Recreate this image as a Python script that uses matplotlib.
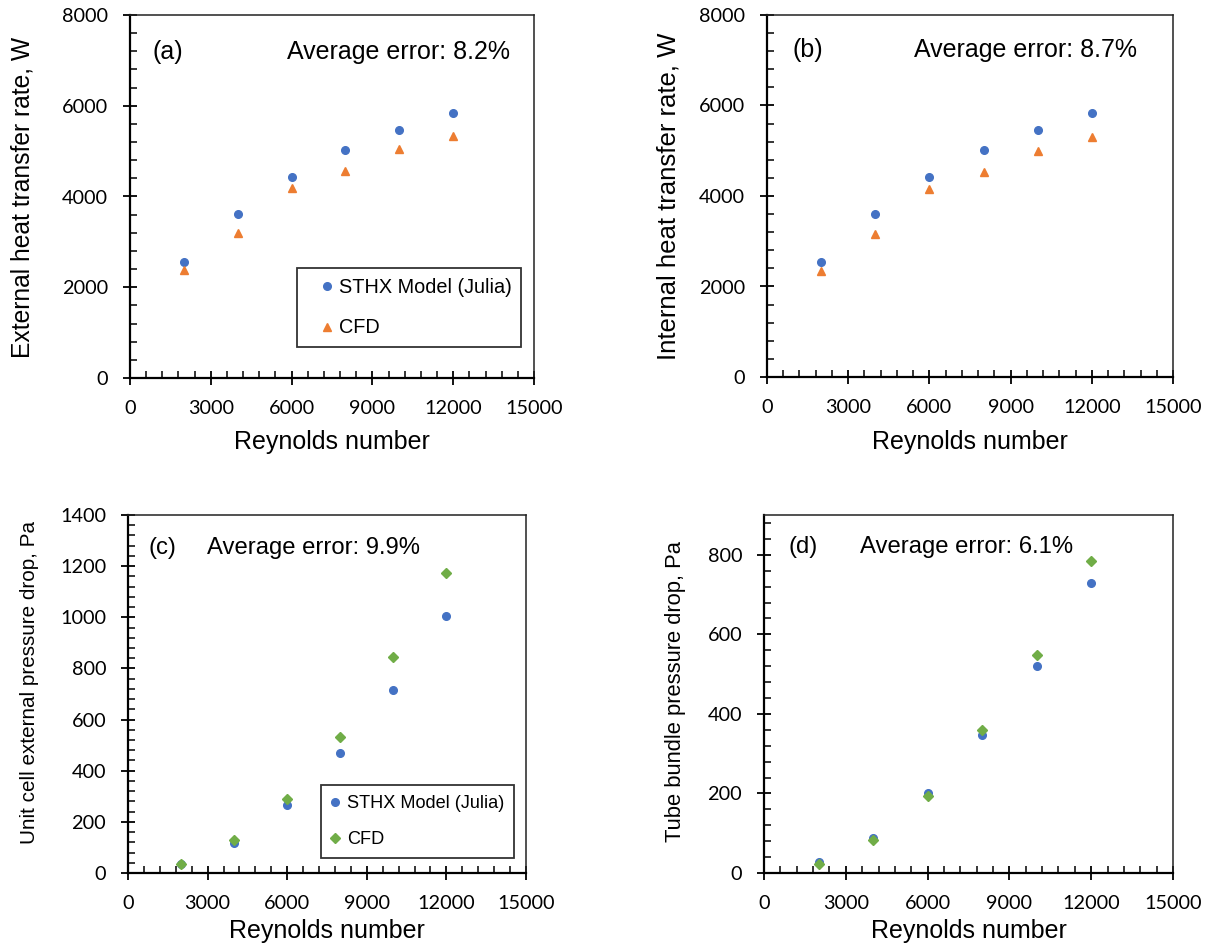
import matplotlib
matplotlib.use("Agg")
import matplotlib.pyplot as plt
from matplotlib.ticker import MultipleLocator

reynolds = [2000, 4000, 6000, 8000, 10000, 12000]

ext_q_model = [2560, 3625, 4436, 5022, 5462, 5843]
ext_q_cfd = [2380, 3189, 4179, 4567, 5037, 5337]

int_q_model = [2551, 3596, 4426, 5007, 5463, 5838]
int_q_cfd = [2353, 3154, 4147, 4537, 5000, 5301]

unit_dp_model = [36, 117, 264, 469, 715, 1005]
unit_dp_cfd = [36, 130, 290, 533, 844, 1174]

bundle_dp_model = [28, 88, 200, 346, 521, 728]
bundle_dp_cfd = [23, 82, 194, 359, 549, 785]

labels_model = "STHX Model (Julia)"
labels_cfd = "CFD"
x_label = "Reynolds number"
y_labels = ["External heat transfer rate, W", "Internal heat transfer rate, W",
            "Unit cell external pressure drop, Pa", "Tube bundle pressure drop, Pa"]
panel_tags = ["(a)", "(b)", "(c)", "(d)"]
error_texts = ["Average error: 8.2%", "Average error: 8.7%",
               "Average error: 9.9%", "Average error: 6.1%"]

BLUE = "#4472C4"
ORANGE = "#ED7D31"
GREEN = "#70AD47"
TXT_FONT = "Liberation Sans"
TICK_FONT = "Lato"

W, H = 1208, 947
fig = plt.figure(figsize=(W / 100, H / 100), dpi=100)

boxes = [(130, 534, 15, 378), (767, 1173, 15, 377),
         (128, 526, 515, 873), (764, 1173, 515, 873)]


def px_axes(box):
    l, r, t, b = box
    return fig.add_axes([l / W, 1 - b / H, (r - l) / W, (b - t) / H])


def style(ax, box, ymax, ymajor, yminor, ylabel, ylab_size, ylab_xy, xlab_y):
    l, r, t, b = box
    ax.set_xlim(0, 15000)
    ax.set_ylim(0, ymax)
    ax.xaxis.set_major_locator(MultipleLocator(3000))
    ax.xaxis.set_minor_locator(MultipleLocator(600))
    ax.yaxis.set_major_locator(MultipleLocator(ymajor))
    ax.yaxis.set_minor_locator(MultipleLocator(yminor))
    ax.tick_params(which="major", direction="inout", length=9.5, width=1.3,
                   labelsize=14.3, pad=11, color="black")
    ax.tick_params(which="minor", direction="in", length=5, width=1.1)
    ax.tick_params(top=False, right=False, which="both")
    for lab in ax.get_xticklabels() + ax.get_yticklabels():
        lab.set_fontfamily(TICK_FONT)
    for sp in ax.spines.values():
        sp.set_linewidth(1.1)
        sp.set_color("#222222")
    ax.spines["left"].set_linewidth(1.6)
    ax.spines["bottom"].set_linewidth(1.6)
    ax.spines["left"].set_color("black")
    ax.spines["bottom"].set_color("black")
    ax.set_xlabel(x_label, fontsize=18, fontfamily=TXT_FONT)
    ax.xaxis.label.set_verticalalignment("center")
    ax.xaxis.set_label_coords(0.5, (b - xlab_y) / (b - t))
    ax.set_ylabel(ylabel, fontsize=ylab_size, fontfamily=TXT_FONT)
    ax.yaxis.label.set_verticalalignment("center")
    ax.yaxis.set_label_coords((ylab_xy[0] - l) / (r - l), (b - ylab_xy[1]) / (b - t))


axes = [px_axes(bx) for bx in boxes]

ms = 5.5
# (a)
ax = axes[0]
ax.plot(reynolds, ext_q_model, "o", color=BLUE, ms=ms, label=labels_model)
ax.plot(reynolds, ext_q_cfd, "^", color=ORANGE, ms=ms + 0.3, label=labels_cfd)
style(ax, boxes[0], 8000, 2000, 400, y_labels[0], 17.7, (23, 197), 442)
leg = ax.legend(loc="lower right", bbox_to_anchor=(0.968, 0.0854), frameon=True,
                fancybox=False, edgecolor="black",
                prop={"family": TXT_FONT, "size": 14.3}, handletextpad=-0.4,
                labelspacing=1.1, borderpad=0.48, handlelength=2.0,
                borderaxespad=0)
leg.get_frame().set_linewidth(1.3)

# (b)
ax = axes[1]
ax.plot(reynolds, int_q_model, "o", color=BLUE, ms=ms)
ax.plot(reynolds, int_q_cfd, "^", color=ORANGE, ms=ms + 0.3)
style(ax, boxes[1], 8000, 2000, 400, y_labels[1], 18.5, (668, 196), 442)

# (c)
ax = axes[2]
ax.plot(reynolds, unit_dp_model, "o", color=BLUE, ms=ms, label=labels_model)
ax.plot(reynolds, unit_dp_cfd, "D", color=GREEN, ms=ms, label=labels_cfd)
style(ax, boxes[2], 1400, 200, 40, y_labels[2], 14.9, (30, 682), 931)
leg = ax.legend(loc="lower right", bbox_to_anchor=(0.970, 0.0419), frameon=True,
                fancybox=False, edgecolor="black",
                prop={"family": TXT_FONT, "size": 13.1}, handletextpad=0.44,
                labelspacing=1.05, borderpad=0.55, handlelength=0.44,
                borderaxespad=0)
leg.get_frame().set_linewidth(1.3)

# (d)
ax = axes[3]
ax.plot(reynolds, bundle_dp_model, "o", color=BLUE, ms=ms)
ax.plot(reynolds, bundle_dp_cfd, "D", color=GREEN, ms=ms)
style(ax, boxes[3], 900, 200, 40, y_labels[3], 15.8, (675, 692), 931)

# annotations (figure pixel coordinates)
tag_pos = [(153, 52), (792, 50), (149, 548), (788, 547)]
err_pos = [(287, 52), (914, 50), (207, 548), (860, 547)]
sizes = [18, 18, 17.2, 17.2]
for i in range(4):
    fig.text(tag_pos[i][0] / W, 1 - tag_pos[i][1] / H, panel_tags[i],
             fontsize=sizes[i], fontfamily=TXT_FONT, va="center", ha="left")
    fig.text(err_pos[i][0] / W, 1 - err_pos[i][1] / H, error_texts[i],
             fontsize=sizes[i], fontfamily=TXT_FONT, va="center", ha="left")

fig.savefig("out.png", dpi=100, facecolor="white")
